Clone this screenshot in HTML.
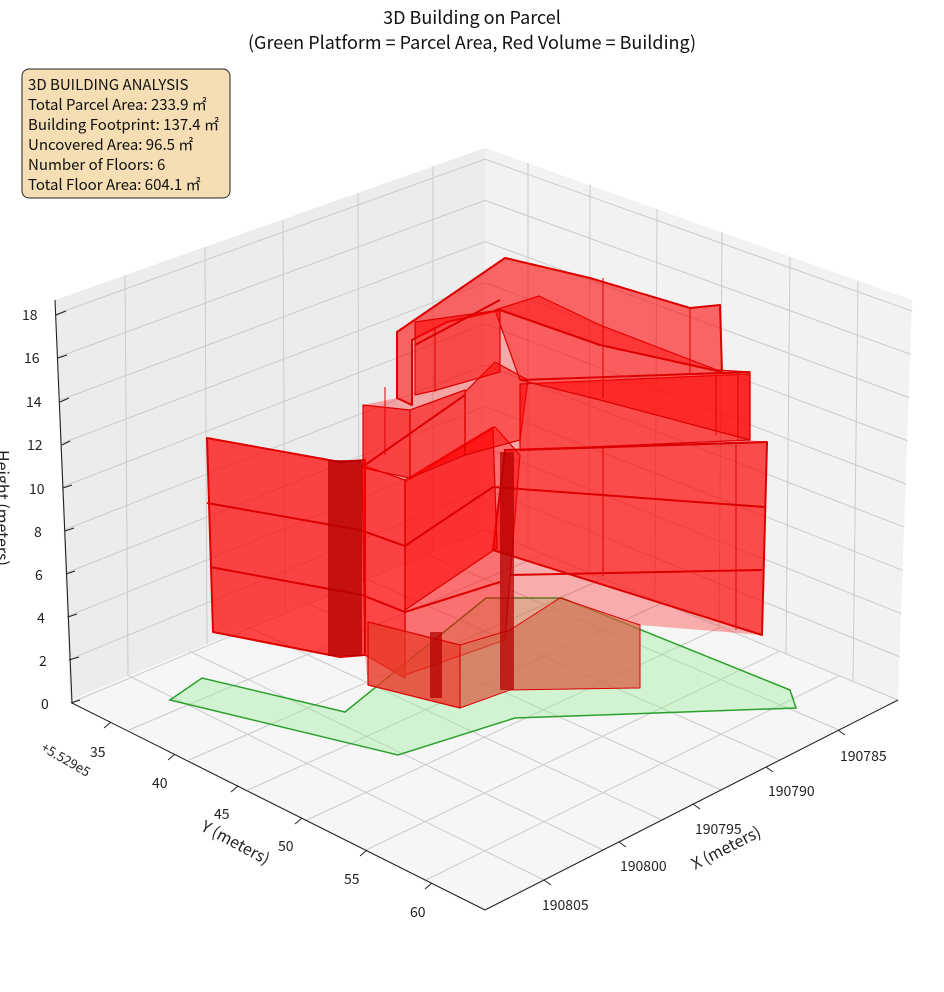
<!DOCTYPE html><html><head><meta charset="utf-8"><style>body{margin:0;background:#fff}svg{display:block}text{font-family:"Noto Sans CJK JP","Liberation Sans",sans-serif}</style></head><body>
<svg width="944" height="992" viewBox="0 0 944 992" xmlns="http://www.w3.org/2000/svg">
<polygon points="55,300 485,148 485,530 70,700" fill="#ececec"/>
<polygon points="485,148 912,300 898,700 485,530" fill="#f2f2f2"/>
<polygon points="70,700 485,530 898,700 485,910" fill="#f6f6f6"/>
<g stroke="#cbcbcb" stroke-width="1" fill="none">
<line x1="125" y1="275" x2="128" y2="676"/><line x1="205" y1="247" x2="207" y2="644"/><line x1="283" y1="220" x2="285" y2="612"/><line x1="358" y1="193" x2="359" y2="582"/><line x1="433" y1="166" x2="433" y2="551"/>
<line x1="528" y1="163" x2="528" y2="548"/><line x1="590" y1="185" x2="589" y2="573"/><line x1="657" y1="209" x2="655" y2="600"/><line x1="722" y1="232" x2="719" y2="626"/><line x1="790" y1="257" x2="786" y2="654"/><line x1="858" y1="281" x2="853" y2="682"/>
<polyline points="70,703 485,530 898,700"/>
<polyline points="68.4,659.8 485,488.8 899.6,656.8"/>
<polyline points="66.8,616.6 485,447.6 901.2,613.6"/>
<polyline points="65.2,573.4 485,406.4 902.8,570.4"/>
<polyline points="63.6,530.2 485,365.2 904.4,527.2"/>
<polyline points="62,487 485,324 906,484"/>
<polyline points="60.4,443.8 485,282.8 907.6,440.8"/>
<polyline points="58.8,400.6 485,241.6 909.2,397.6"/>
<polyline points="57.2,357.4 485,200.4 910.8,354.4"/>
<polyline points="55.6,314.2 485,159.2 912.4,311.2"/>
<line x1="129" y1="730" x2="544" y2="554"/><line x1="544" y1="880" x2="129" y2="676"/>
<line x1="189" y1="760" x2="603" y2="579"/><line x1="603" y1="850" x2="189" y2="651"/>
<line x1="248" y1="790" x2="662" y2="603"/><line x1="662" y1="820" x2="248" y2="627"/>
<line x1="307" y1="820" x2="721" y2="627"/><line x1="721" y1="790" x2="307" y2="603"/>
<line x1="366" y1="850" x2="780" y2="651"/><line x1="780" y1="760" x2="366" y2="579"/>
<line x1="426" y1="880" x2="839" y2="676"/><line x1="839" y1="730" x2="426" y2="554"/>
</g>
<g stroke="#222" stroke-width="1.1" fill="none">
<line x1="55" y1="300" x2="72" y2="703"/>
<line x1="72" y1="703" x2="485" y2="910"/>
<line x1="485" y1="910" x2="898" y2="700"/>
</g>
<g stroke="#222" stroke-width="1">
<line x1="56" y1="315" x2="66" y2="311"/><line x1="58" y1="358" x2="67" y2="355"/><line x1="60" y1="402" x2="69" y2="398"/><line x1="62" y1="445" x2="70" y2="441"/><line x1="63" y1="488" x2="72" y2="485"/><line x1="65" y1="531" x2="74" y2="528"/><line x1="66" y1="574" x2="75" y2="571"/><line x1="68" y1="617" x2="77" y2="614"/><line x1="69" y1="660" x2="79" y2="657"/><line x1="71" y1="703" x2="80" y2="700"/>
<line x1="111" y1="722" x2="104" y2="728"/><line x1="175" y1="754" x2="168" y2="760"/><line x1="238" y1="786" x2="231" y2="792"/><line x1="302" y1="818" x2="295" y2="824"/><line x1="367" y1="850" x2="360" y2="856"/><line x1="432" y1="883" x2="425" y2="889"/>
<line x1="838" y1="730" x2="845" y2="735"/><line x1="766" y1="767" x2="773" y2="772"/><line x1="693" y1="804" x2="700" y2="809"/><line x1="619" y1="842" x2="626" y2="847"/><line x1="544" y1="880" x2="551" y2="885"/>
</g>
<g font-size="14" fill="#222">
<text x="22" y="320">18</text><text x="24" y="363">16</text><text x="26" y="407">14</text><text x="27" y="450">12</text><text x="29" y="494">10</text><text x="34" y="537">8</text><text x="35" y="580">6</text><text x="37" y="623">4</text><text x="39" y="666">2</text><text x="41" y="709">0</text>
<text x="90" y="757">35</text><text x="152" y="788">40</text><text x="214" y="819">45</text><text x="278" y="851">50</text><text x="344" y="884">55</text><text x="410" y="917">60</text>
<text x="840" y="761">190785</text><text x="768" y="796">190790</text><text x="695" y="834">190795</text><text x="620" y="871">190800</text><text x="542" y="910">190805</text>
<text x="40" y="750" transform="rotate(30 40 750)" font-size="13">+5.529e5</text>
</g>
<text x="200" y="830" font-size="16" fill="#222" transform="rotate(28 200 830)">Y (meters)</text>
<text x="695" y="870" font-size="16" fill="#222" transform="rotate(-27 695 870)">X (meters)</text>
<text x="-3" y="450" font-size="16" fill="#222" transform="rotate(90 -3 450)">Height (meters)</text>
<polygon points="170,700 202,678 345,712 486,598 562,598 790,690 796,708 515,718 398,755" fill="rgba(144,238,144,0.35)" stroke="#2ca02c" stroke-width="1.5"/>
<polygon points="207,438 340,462 363,462 363,405 397,398 397,332 505,258 590,278 690,308 720,305 722,372 750,372 750,440 767,442 762,635 640,625 640,688 510,690 460,708 368,685 365,655 340,657 213,632" fill="rgba(255,0,0,0.3)"/>
<g stroke="#dd0000" stroke-width="1.2" stroke-linejoin="round">
<polygon points="405,482 495,427 520,455 505,640 405,675" fill="rgba(255,0,0,0.35)"/>
<polygon points="505,450 767,442 762,635 493,550" fill="rgba(255,0,0,0.55)" stroke-width="2"/>
<polygon points="207,438 340,462 365,460 365,655 340,657 213,632" fill="rgba(255,0,0,0.6)" stroke-width="2"/>
<polygon points="362,465 405,480 405,678 365,655" fill="rgba(255,0,0,0.6)"/>
<polygon points="405,480 493,427 497,548 405,610" fill="rgba(255,0,0,0.55)"/>
<polygon points="363,405 410,410 410,478 363,468" fill="rgba(255,0,0,0.6)"/>
<polygon points="410,410 465,390 465,455 410,478" fill="rgba(255,0,0,0.55)"/>
<polygon points="465,392 495,362 528,380 520,440 465,455" fill="rgba(255,0,0,0.5)"/>
<polygon points="520,384 750,374 750,440 520,450" fill="rgba(255,0,0,0.55)"/>
<polygon points="495,310 539,296 600,325 717,370 750,372 750,440 600,400 520,380" fill="rgba(255,0,0,0.45)"/>
<polygon points="397,332 505,258 590,278 690,308 720,305 722,372 600,345 500,310 447,322 412,340 412,405 397,398" fill="rgba(255,0,0,0.4)" stroke-width="2"/>
<polygon points="415,322 500,310 500,372 437,390 415,395" fill="rgba(255,0,0,0.55)"/>
<polygon points="368,622 460,645 460,708 368,685" fill="rgba(230,60,40,0.7)"/>
<polygon points="460,645 510,630 560,598 640,625 640,688 510,690 460,708" fill="rgba(210,110,80,0.6)" stroke-width="1"/>
<g fill="none" stroke-width="2">
<line x1="207" y1="503" x2="360" y2="530"/><line x1="360" y1="530" x2="405" y2="546"/><line x1="405" y1="546" x2="493" y2="487"/><line x1="493" y1="487" x2="765" y2="507"/>
<line x1="210" y1="567" x2="362" y2="595"/><line x1="362" y1="595" x2="405" y2="612"/><line x1="405" y1="612" x2="500" y2="582"/><line x1="510" y1="575" x2="762" y2="570"/>
<line x1="520" y1="450" x2="767" y2="442"/><line x1="520" y1="380" x2="750" y2="372"/>
<line x1="365" y1="465" x2="465" y2="395"/><line x1="415" y1="345" x2="500" y2="300"/>
</g>
</g>
<g fill="rgba(180,0,0,0.75)">
<rect x="328" y="460" width="34" height="196"/>
<rect x="500" y="452" width="14" height="238"/>
<rect x="430" y="632" width="12" height="66"/>
</g>
<g stroke="#dd0000" stroke-width="1" fill="none">
<line x1="603" y1="278" x2="603" y2="398"/><line x1="690" y1="307" x2="690" y2="373"/><line x1="716" y1="372" x2="716" y2="435"/><line x1="738" y1="372" x2="738" y2="440"/><line x1="603" y1="447" x2="603" y2="576"/><line x1="736" y1="442" x2="736" y2="630"/><line x1="435" y1="327" x2="435" y2="392"/><line x1="385" y1="387" x2="385" y2="455"/>
</g>
<text x="472" y="24" font-size="18" text-anchor="middle" fill="#111">3D Building on Parcel</text>
<text x="472" y="49" font-size="18" text-anchor="middle" fill="#111">(Green Platform = Parcel Area, Red Volume = Building)</text>
<rect x="22" y="69" width="208" height="129" rx="7" fill="#f5deb3" stroke="#222" stroke-width="1"/>
<g font-size="15" fill="#111">
<text x="28" y="90">3D BUILDING ANALYSIS</text>
<text x="28" y="110">Total Parcel Area: 233.9 ㎡</text>
<text x="28" y="130">Building Footprint: 137.4 ㎡</text>
<text x="28" y="150">Uncovered Area: 96.5 ㎡</text>
<text x="28" y="170">Number of Floors: 6</text>
<text x="28" y="190">Total Floor Area: 604.1 ㎡</text>
</g>
</svg>
</body></html>
